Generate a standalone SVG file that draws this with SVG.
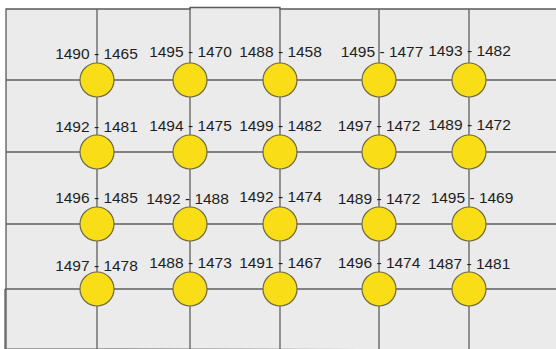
<svg xmlns="http://www.w3.org/2000/svg" width="556" height="349" viewBox="0 0 556 349">
<style>
.bg{fill:#ebebeb;stroke:#5a5a5a;stroke-width:1.3}
.ln{stroke:#5f5f5f;stroke-width:1.3;fill:none}
.nd circle{fill:#f9dd16;stroke:#6e6a45;stroke-width:1.2}
.nd text{font-family:"Liberation Sans",Arial,sans-serif;font-size:15.5px;fill:#1e1e1e;text-anchor:middle}
</style>
<rect width="556" height="349" fill="#ffffff"/>
<path class="bg" d="M6,349 V9 H190 V7.5 H280 V9 H557 V350 Z"/>
<g id="connectors">
<line class="ln" x1="6" y1="80" x2="556" y2="80"/>
<line class="ln" x1="6" y1="152" x2="556" y2="152"/>
<line class="ln" x1="6" y1="224" x2="556" y2="224"/>
<line class="ln" x1="5" y1="289" x2="556" y2="289"/>
<line class="ln" x1="5" y1="289" x2="5" y2="349"/>
<line class="ln" x1="97" y1="9" x2="97" y2="349"/>
<line class="ln" x1="190" y1="8" x2="190" y2="349"/>
<line class="ln" x1="280" y1="8" x2="280" y2="349"/>
<line class="ln" x1="379" y1="9" x2="379" y2="349"/>
<line class="ln" x1="469" y1="9" x2="469" y2="349"/>
</g>
<g id="n11" class="nd"><circle cx="97" cy="80" r="17"/><text x="96.5" y="59">1490 - 1465</text></g>
<g id="n12" class="nd"><circle cx="190" cy="80" r="17"/><text x="190.5" y="57">1495 - 1470</text></g>
<g id="n13" class="nd"><circle cx="280" cy="80" r="17"/><text x="280.5" y="56.5">1488 - 1458</text></g>
<g id="n14" class="nd"><circle cx="379" cy="80" r="17"/><text x="382" y="57">1495 - 1477</text></g>
<g id="n15" class="nd"><circle cx="469" cy="80" r="17"/><text x="469.5" y="56">1493 - 1482</text></g>
<g id="n21" class="nd"><circle cx="97" cy="152" r="17"/><text x="96.5" y="131.5">1492 - 1481</text></g>
<g id="n22" class="nd"><circle cx="190" cy="152" r="17"/><text x="190.5" y="131">1494 - 1475</text></g>
<g id="n23" class="nd"><circle cx="280" cy="152" r="17"/><text x="280.5" y="131">1499 - 1482</text></g>
<g id="n24" class="nd"><circle cx="379" cy="152" r="17"/><text x="379" y="131.3">1497 - 1472</text></g>
<g id="n25" class="nd"><circle cx="469" cy="152" r="17"/><text x="469.5" y="129.5">1489 - 1472</text></g>
<g id="n31" class="nd"><circle cx="97" cy="224" r="17"/><text x="96.5" y="202.5">1496 - 1485</text></g>
<g id="n32" class="nd"><circle cx="190" cy="224" r="17"/><text x="187.5" y="204">1492 - 1488</text></g>
<g id="n33" class="nd"><circle cx="280" cy="224" r="17"/><text x="280.5" y="201.7">1492 - 1474</text></g>
<g id="n34" class="nd"><circle cx="379" cy="224" r="17"/><text x="379" y="204.3">1489 - 1472</text></g>
<g id="n35" class="nd"><circle cx="469" cy="224" r="17"/><text x="472" y="203.3">1495 - 1469</text></g>
<g id="n41" class="nd"><circle cx="97" cy="289" r="17"/><text x="96.5" y="270.7">1497 - 1478</text></g>
<g id="n42" class="nd"><circle cx="190" cy="289" r="17"/><text x="190.5" y="268.3">1488 - 1473</text></g>
<g id="n43" class="nd"><circle cx="280" cy="289" r="17"/><text x="280.5" y="268.3">1491 - 1467</text></g>
<g id="n44" class="nd"><circle cx="379" cy="289" r="17"/><text x="379" y="268.3">1496 - 1474</text></g>
<g id="n45" class="nd"><circle cx="469" cy="289" r="17"/><text x="469" y="269">1487 - 1481</text></g>
</svg>
